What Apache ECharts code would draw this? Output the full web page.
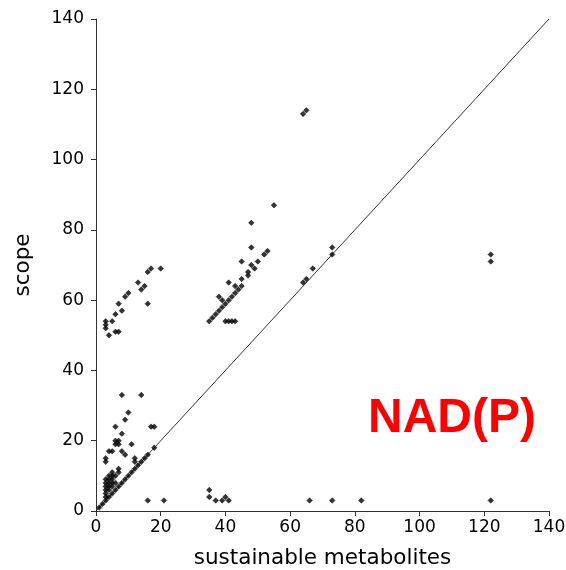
<!DOCTYPE html>
<html><head><meta charset="utf-8">
<script src="https://cdn.jsdelivr.net/npm/echarts@6/dist/echarts.min.js"></script>
<style>html,body{margin:0;padding:0;background:#fff}#c{width:566px;height:570px}</style>
</head><body><div id="c"></div>
<script>
const xTicks = [0,20,40,60,80,100,120,140];
const yTicks = [0,20,40,60,80,100,120,140];
const diagonalLine = [[0,0],[140,140]];
const onDiagonal = [[1,1],[2,2],[3,3],[4,4],[5,5],[6,6],[7,7],[8,8],[9,9],[10,10],[11,11],[12,12],[13,13],[14,14],[15,15],[16,16],[18,18]];
const lowCluster = [[3,4],[3,5],[3,6],[3,7],[3,8],[3,9],[4,6],[4,7],[4,8],[4,9],[4,10],[5,7],[5,8],[5,9],[5,10],[5,11],[6,8],[6,10],[7,11],[7,12],
  [3,14],[3,15],[4,17],[5,17],[8,17],[9,16],[6,19],[6,20],[7,20],[7,19],[11,19],[12,14],[12,15],[8,22],[6,24],[9,26],[10,28],[8,33],[14,33],[17,24],[18,24]];
const upperLeft = [[3,54],[3,53],[3,52],[4,50],[5,54],[6,51],[7,51],[6,56],[7,59],[8,57],[9,61],[10,62],[13,65],[14,63],[15,64],[16,59],[16,68],[17,69],[20,69]];
const midCluster = [[35,54],[36,55],[37,56],[38,57],[39,58],[40,59],[41,60],[42,61],[43,62],[44,63],[45,64],
  [40,54],[41,54],[42,54],[43,54],[38,61],[39,60],[41,65],[43,64],[45,66],[47,67],[47,68],[48,70],[49,69],[45,71],[50,71],[52,73],[53,74],[48,75],[48,82],[55,87]];
const rightPts = [[64,113],[65,114],[64,65],[65,66],[67,69],[73,73],[73,75],[122,71],[122,73]];
const bottomRow = [[16,3],[21,3],[35,4],[35,6],[37,3],[39,3],[40,4],[41,3],[66,3],[73,3],[82,3],[122,3]];
const allPoints = [].concat(onDiagonal, lowCluster, upperLeft, midCluster, rightPts, bottomRow);

const chart = echarts.init(document.getElementById('c'), null, {renderer:'canvas'});
const axisCommon = {
  min: 0, max: 140, interval: 20,
  axisLine: {show: true, lineStyle: {color: '#333', width: 1}},
  axisTick: {show: true, length: 5, lineStyle: {color: '#333', width: 1}},
  splitLine: {show: false},
  nameLocation: 'middle',
  nameTextStyle: {fontFamily: 'DejaVu Sans', fontSize: 21.5, color: '#000'}
};
chart.setOption({
  animation: false,
  backgroundColor: '#fff',
  grid: {left: 96, right: 17, top: 19, bottom: 59, containLabel: false, outerBoundsMode: 'none'},
  xAxis: Object.assign({}, axisCommon, {
    type: 'value', name: 'sustainable metabolites', nameGap: 36,
    axisLabel: {margin: 8, fontFamily: 'DejaVu Sans', fontSize: 17, color: '#000',
      formatter: v => xTicks.includes(v) ? String(v) : ''}
  }),
  yAxis: Object.assign({}, axisCommon, {
    type: 'value', name: 'scope', nameGap: 62,
    axisLabel: {margin: 12, fontFamily: 'DejaVu Sans', fontSize: 17, color: '#000',
      formatter: v => yTicks.includes(v) ? String(v) : ''}
  }),
  graphic: [{
    type: 'text', left: 368, top: 395,
    style: {text: 'NAD(P)', font: 'bold 48px "Liberation Sans"', fill: '#ff0000'}
  }],
  series: [
    {type: 'line', data: diagonalLine, showSymbol: false, symbol: 'none',
     lineStyle: {color: '#000', width: 0.8}, silent: true, z: 1},
    {type: 'scatter', data: allPoints, symbol: 'diamond', symbolSize: 5.5,
     itemStyle: {color: '#000', borderColor: '#000', borderWidth: 0.6}, z: 2}
  ]
});
</script></body></html>
